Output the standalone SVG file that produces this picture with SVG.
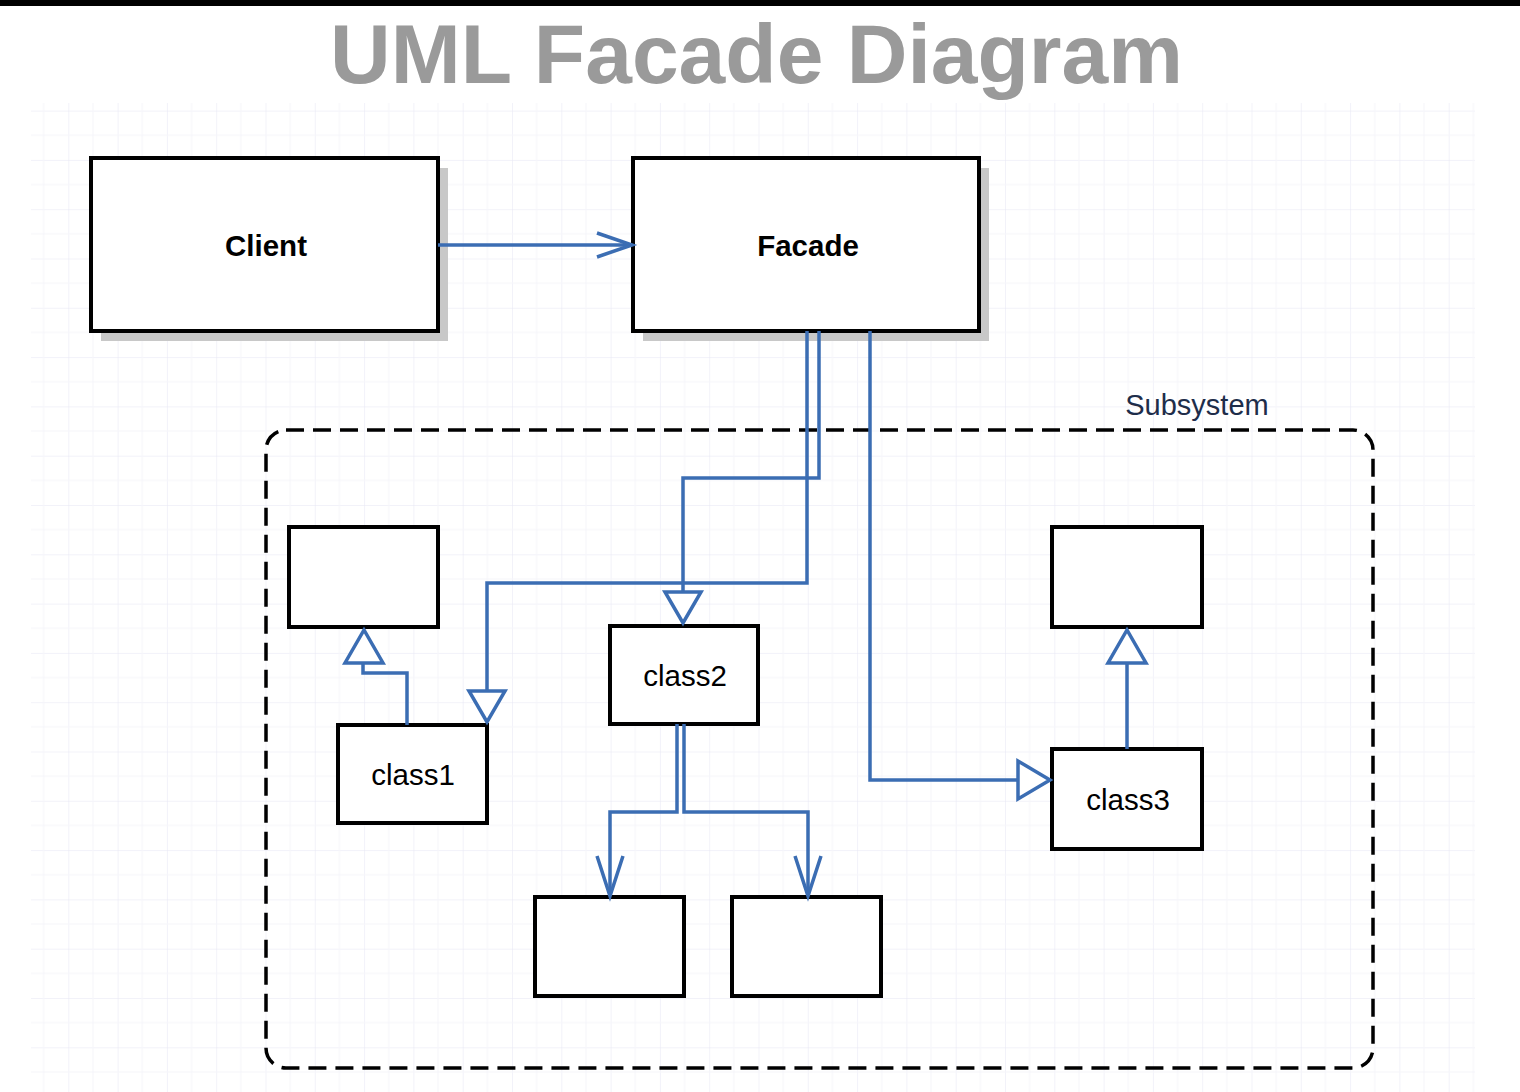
<svg xmlns="http://www.w3.org/2000/svg" width="1520" height="1092" viewBox="0 0 1520 1092">
<style>
.box{fill:#fff;stroke:#000;stroke-width:4}
.shadow{fill:#c8c8c8}
.lbl{font-family:"Liberation Sans",Arial,sans-serif;font-size:29.5px;fill:#000;text-anchor:middle;dominant-baseline:central}
.bold{font-weight:bold}
.conn{fill:none;stroke:#3b6db3;stroke-width:3.5}
.tri{fill:#fff;stroke:#3b6db3;stroke-width:3.5}
</style>
<defs>
<pattern id="grid" x="19" y="12" width="49.3" height="49.3" patternUnits="userSpaceOnUse">
<path d="M0 0H49.3M0 0V49.3" fill="none" stroke="#e6e6f3" stroke-width="1"/>
<path d="M0 24.65H49.3M24.65 0V49.3" fill="none" stroke="#f5f5fa" stroke-width="1"/>
</pattern>
</defs>
<rect width="1520" height="1092" fill="#fff"/>
<rect x="31" y="103" width="1444" height="989" fill="url(#grid)"/>
<rect x="0" y="0" width="1520" height="6" fill="#000"/>
<text x="330" y="83" textLength="853" lengthAdjust="spacingAndGlyphs" font-family="'Liberation Sans',Arial,sans-serif" font-weight="bold" font-size="84" fill="#9a9a9a">UML Facade Diagram</text>

<g id="subsystem">
<rect x="266" y="430" width="1107" height="638" rx="20" ry="20" fill="none" stroke="#000" stroke-width="3.5" stroke-dasharray="18 9"/>
<text x="1197" y="405" font-family="'Liberation Sans',Arial,sans-serif" font-size="29" fill="#1e2d4a" text-anchor="middle" dominant-baseline="central">Subsystem</text>
</g>

<g id="client">
<rect class="shadow" x="101" y="168" width="347" height="173"/>
<rect class="box" x="91" y="158" width="347" height="173"/>
<text class="lbl bold" x="266" y="245">Client</text>
</g>
<g id="facade">
<rect class="shadow" x="643" y="168" width="346" height="173"/>
<rect class="box" x="633" y="158" width="346" height="173"/>
<text class="lbl bold" x="808" y="245">Facade</text>
</g>

<g id="base1"><rect class="box" x="289" y="527" width="149" height="100"/></g>
<g id="class1"><rect class="box" x="338" y="725" width="149" height="98"/><text class="lbl" x="413" y="774">class1</text></g>
<g id="class2"><rect class="box" x="610" y="626" width="148" height="98"/><text class="lbl" x="685" y="675">class2</text></g>
<g id="sub1"><rect class="box" x="535" y="897" width="149" height="99"/></g>
<g id="sub2"><rect class="box" x="732" y="897" width="149" height="99"/></g>
<g id="base3"><rect class="box" x="1052" y="527" width="150" height="100"/></g>
<g id="class3"><rect class="box" x="1052" y="749" width="150" height="100"/><text class="lbl" x="1128" y="799">class3</text></g>

<g id="connectors">
<path class="conn" d="M438 245H631"/>
<path class="conn" d="M597 233L632 245L597 257"/>

<path class="conn" d="M819 331V478H683V592"/>
<path class="tri" d="M665 592H701L683 623Z"/>

<path class="conn" d="M807 331V583H487V691"/>
<path class="tri" d="M469 691H505L487 722Z"/>

<path class="conn" d="M870 331V780H1018"/>
<path class="tri" d="M1018 761V799L1050 780Z"/>

<path class="conn" d="M407 725V673H363V663"/>
<path class="tri" d="M345 663H383L364 630Z"/>

<path class="conn" d="M1127 749V663"/>
<path class="tri" d="M1108 663H1146L1127 630Z"/>

<path class="conn" d="M677 724V812H610V895"/>
<path class="conn" d="M597 856L610 896L623 856"/>
<path class="conn" d="M684 724V812H808V895"/>
<path class="conn" d="M795 856L808 896L821 856"/>
</g>
</svg>
